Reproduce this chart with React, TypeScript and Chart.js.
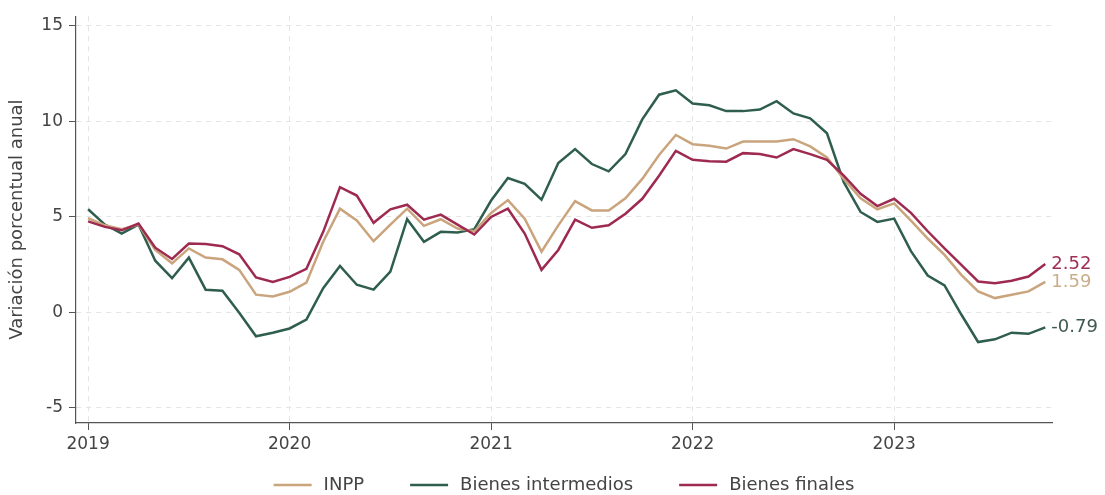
import React, { useEffect, useRef } from "react";
import { Chart, registerables } from "chart.js";
Chart.register(...registerables);

const FONT = "'DejaVu Sans', 'Noto Sans', sans-serif";

// Monthly observations, Jan 2019 .. Oct 2023 (index 0 = Jan 2019)
const yearLabels = ["2019", "2020", "2021", "2022", "2023"];
const yearTickIndex = [0, 12, 24, 36, 48];

const inpp = [
  4.93, 4.55, 4.35, 4.59, 3.26, 2.56, 3.34, 2.86, 2.77, 2.22, 0.92, 0.83,
  1.07, 1.55, 3.69, 5.42, 4.81, 3.72, 4.59, 5.42, 4.52, 4.87, 4.38, 4.24,
  5.2, 5.87, 4.9, 3.17, 4.55, 5.82, 5.33, 5.33, 5.97, 6.98, 8.23, 9.28,
  8.8, 8.72, 8.57, 8.94, 8.94, 8.94, 9.06, 8.68, 8.1, 6.98, 5.97, 5.39,
  5.7, 4.8, 3.86, 3.0, 1.96, 1.09, 0.74, 0.92, 1.09, 1.59,
];

const intermedios = [
  5.39, 4.59, 4.12, 4.59, 2.7, 1.78, 2.86, 1.18, 1.13, -0.03, -1.26, -1.07,
  -0.85, -0.38, 1.26, 2.42, 1.44, 1.18, 2.13, 4.87, 3.69, 4.21, 4.17, 4.35,
  5.85, 7.03, 6.72, 5.89, 7.81, 8.54, 7.76, 7.38, 8.28, 10.1, 11.39, 11.62,
  10.93, 10.84, 10.53, 10.53, 10.61, 11.05, 10.41, 10.15, 9.37, 6.81, 5.25, 4.73,
  4.9, 3.2, 1.92, 1.4, -0.12, -1.56, -1.42, -1.07, -1.13, -0.79,
];

const finales = [
  4.76, 4.47, 4.29, 4.64, 3.38, 2.79, 3.6, 3.57, 3.46, 3.03, 1.82, 1.58,
  1.85, 2.27, 4.21, 6.55, 6.11, 4.68, 5.39, 5.63, 4.85, 5.11, 4.59, 4.07,
  4.99, 5.42, 4.12, 2.22, 3.26, 4.85, 4.42, 4.55, 5.16, 5.94, 7.15, 8.45,
  7.98, 7.9, 7.88, 8.33, 8.28, 8.1, 8.54, 8.28, 7.98, 7.15, 6.2, 5.56,
  5.94, 5.2, 4.24, 3.34, 2.48, 1.61, 1.52, 1.65, 1.87, 2.52,
];

const yTicks = [-5, 0, 5, 10, 15];

const seriesNames = ["INPP", "Bienes intermedios", "Bienes finales"];
const seriesColors = ["#C9A47C", "#2F5E4E", "#9E2A50"];
const labelColors = ["#C9AE8C", "#3E5A50", "#9E2F55"];

const toPoints = (arr: number[]) => arr.map((v, i) => ({ x: i, y: v }));

const endLabels = {
  id: "endLabels",
  afterDatasetsDraw(chart: any) {
    const ctx = chart.ctx;
    ctx.save();
    ctx.font = `18px ${FONT}`;
    ctx.textBaseline = "middle";
    ctx.textAlign = "left";
    chart.data.datasets.forEach((ds: any, di: number) => {
      const meta = chart.getDatasetMeta(di);
      const pt = meta.data[meta.data.length - 1];
      const v = ds.data[ds.data.length - 1].y;
      ctx.fillStyle = ds.endLabelColor;
      ctx.fillText(v.toFixed(2), pt.x + 6, pt.y);
    });
    ctx.restore();
  },
};

const bottomLegend = {
  id: "bottomLegend",
  afterDraw(chart: any) {
    const ctx = chart.ctx;
    const area = chart.chartArea;
    ctx.save();
    ctx.font = `18px ${FONT}`;
    ctx.textBaseline = "middle";
    ctx.textAlign = "left";
    const sw = 38, gap = 12, between = 46;
    const widths = seriesNames.map((n) => ctx.measureText(n).width);
    const total = widths.reduce((a, b) => a + b, 0) + seriesNames.length * (sw + gap) + (seriesNames.length - 1) * between;
    let x = (area.left + area.right) / 2 - total / 2;
    const y = 485;
    seriesNames.forEach((n, i) => {
      ctx.strokeStyle = seriesColors[i];
      ctx.lineWidth = 2.5;
      ctx.beginPath();
      ctx.moveTo(x, y);
      ctx.lineTo(x + sw, y);
      ctx.stroke();
      ctx.fillStyle = "#444";
      ctx.fillText(n, x + sw + gap, y);
      x += sw + gap + widths[i] + between;
    });
    ctx.restore();
  },
};

export default function App() {
  const ref = useRef<HTMLCanvasElement | null>(null);
  useEffect(() => {
    if (!ref.current) return;
    const data = [inpp, intermedios, finales];
    const chart = new Chart(ref.current, {
      type: "line",
      data: {
        datasets: data.map((arr, i) => ({
          label: seriesNames[i],
          data: toPoints(arr),
          borderColor: seriesColors[i],
          backgroundColor: seriesColors[i],
          borderWidth: 2.5,
          pointRadius: 0,
          tension: 0,
          fill: false,
          endLabelColor: labelColors[i],
          order: i === 2 ? 0 : i === 0 ? 1 : 2,
        })) as any,
      },
      options: {
        responsive: false,
        animation: false,
        layout: { padding: { top: 13, right: 53, bottom: 42, left: 0 } },
        plugins: {
          legend: { display: false },
          tooltip: { enabled: false },
        },
        scales: {
          x: {
            type: "linear",
            min: -0.72,
            max: 57.4,
            afterFit: (s: any) => { s.height = 30; },
            afterBuildTicks: (s: any) => { s.ticks = yearTickIndex.map((v) => ({ value: v })); },
            ticks: {
              autoSkip: false,
              maxRotation: 0,
              padding: 4,
              color: "#444",
              font: { family: FONT, size: 17 },
              callback: (v: any) => {
                const k = yearTickIndex.indexOf(Number(v));
                return k >= 0 ? yearLabels[k] : "";
              },
            },
            grid: { color: "#e4e4e4", lineWidth: 1, tickColor: "#555", tickLength: 7, drawTicks: true },
            border: { display: true, color: "#555", width: 1.2, dash: [5, 5] },
          },
          y: {
            type: "linear",
            min: -5.8,
            max: 15.5,
            afterFit: (s: any) => { s.width = 76; },
            afterBuildTicks: (s: any) => { s.ticks = yTicks.map((v) => ({ value: v })); },
            ticks: {
              padding: 6,
              color: "#444",
              font: { family: FONT, size: 17 },
            },
            grid: { color: "#e4e4e4", lineWidth: 1, tickColor: "#555", tickLength: 7 },
            border: { display: true, color: "#555", width: 1.2, dash: [5, 5] },
            title: {
              display: true,
              text: "Variación porcentual anual",
              color: "#444",
              font: { family: FONT, size: 18 },
              padding: { top: 7, bottom: 0 },
            },
          },
        },
      },
      plugins: [endLabels, bottomLegend],
    });
    return () => chart.destroy();
  }, []);
  return (
    <div style={{ position: "absolute", left: 0, top: 0, width: 1105, height: 495, background: "#fff" }}>
      <canvas ref={ref} width={1105} height={495} />
    </div>
  );
}
